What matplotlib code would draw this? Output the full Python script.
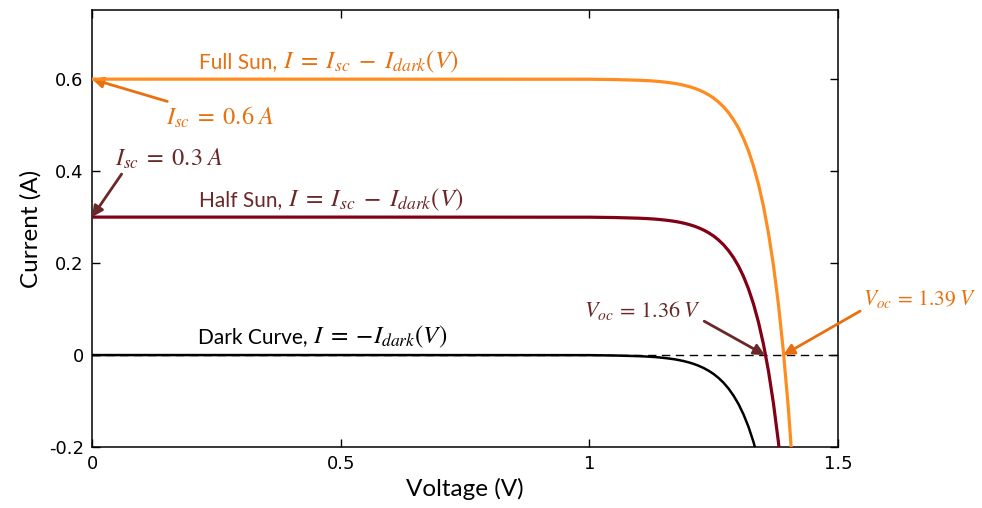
import matplotlib
matplotlib.use("Agg")
import matplotlib.pyplot as plt

# values (current in A against voltage in V)
voltage = [0, 0.5, 1.0, 1.05, 1.10, 1.11, 1.12, 1.13, 1.14, 1.15, 1.16, 1.17, 1.18, 1.19,
           1.20, 1.21, 1.22, 1.23, 1.24, 1.25, 1.26, 1.27, 1.28, 1.29, 1.30, 1.31,
           1.32, 1.33, 1.34, 1.35, 1.36, 1.37, 1.38, 1.39, 1.40, 1.41, 1.42]
dark = [0, 0, -0.0002, -0.0009, -0.0024, -0.0029, -0.0035, -0.0042, -0.0051, -0.0062,
        -0.0075, -0.0090, -0.0109, -0.0132, -0.0160, -0.0193, -0.0234, -0.0283, -0.0342,
        -0.0413, -0.0500, -0.0604, -0.0731, -0.0884, -0.1068, -0.1292, -0.1562, -0.1889,
        -0.2284, -0.2762, -0.334, -0.404, -0.488, -0.591, -0.714, -0.864, -1.045]
half_sun = [0.3, 0.3, 0.2998, 0.2991, 0.2976, 0.2971, 0.2965, 0.2958, 0.2949, 0.2938,
            0.2925, 0.2910, 0.2891, 0.2868, 0.2840, 0.2807, 0.2766, 0.2717, 0.2658,
            0.2587, 0.2500, 0.2396, 0.2269, 0.2116, 0.1932, 0.1708, 0.1438, 0.1111,
            0.0716, 0.0238, -0.034, -0.104, -0.188, -0.291, -0.414, -0.564, -0.745]
full_sun = [0.6, 0.6, 0.5998, 0.5991, 0.5976, 0.5971, 0.5965, 0.5958, 0.5949, 0.5938,
            0.5925, 0.5910, 0.5891, 0.5868, 0.5840, 0.5807, 0.5766, 0.5717, 0.5658,
            0.5587, 0.5500, 0.5396, 0.5269, 0.5116, 0.4932, 0.4708, 0.4438, 0.4111,
            0.3716, 0.3238, 0.266, 0.196, 0.112, 0.009, -0.114, -0.264, -0.445]

x_ticks = [0, 0.5, 1, 1.5]
x_tick_labels = ["0", "0.5", "1", "1.5"]
y_ticks = [-0.2, 0, 0.2, 0.4, 0.6]
y_tick_labels = ["-0.2", "0", "0.2", "0.4", "0.6"]

isc_full, isc_half = 0.6, 0.3
voc_full, voc_half = 1.39, 1.353

ORANGE = "#FF8C1F"
ORANGE_TXT = "#E8700E"
DARKRED = "#820016"
BROWN_TXT = "#6B2828"

plt.rcParams["mathtext.fontset"] = "stix"

fig = plt.figure(figsize=(9.82, 5.08), dpi=100)
ax = fig.add_axes([0.0937, 0.120, 0.7597, 0.860])

ax.axhline(0, color="black", lw=1, ls=(0, (6, 4)), zorder=1)
ax.plot(voltage, dark, color="black", lw=1.8, zorder=2)
ax.plot(voltage, half_sun, color=DARKRED, lw=2.3, zorder=3)
ax.plot(voltage, full_sun, color=ORANGE, lw=2.3, zorder=4)

ax.set_xlim(0, 1.5)
ax.set_ylim(-0.2, 0.75)
ax.set_xticks(x_ticks)
ax.set_xticklabels(x_tick_labels)
ax.set_yticks(y_ticks)
ax.set_yticklabels(y_tick_labels)
ax.tick_params(direction="in", length=6, width=1, top=True, right=True,
               labelsize=13, pad=6)
for s in ax.spines.values():
    s.set_linewidth(1.1)

ax.set_xlabel("Voltage (V)", fontsize=17.5, family="Lato", labelpad=3)
ax.set_ylabel("Current (A)", fontsize=17.5, family="Lato", labelpad=5)


def curve_label(x, y, words, eq, color):
    # plain words in sans, then the equation in a larger serif right after it
    t = ax.text(x, y, words, color=color, fontsize=15, family="Lato", va="baseline")
    ax.annotate(eq, xy=(1, y), xycoords=(t, "data"), xytext=(4, 0),
                textcoords="offset points", color=color, fontsize=18,
                va="baseline", ha="left")


eq_full = r"$I\;=\;I_{sc}\;-\;I_{dark}(V)$"
eq_dark = r"$I\;=\;{-}I_{dark}(V)$"
curve_label(0.215, 0.623, "Full Sun,", eq_full, ORANGE_TXT)
curve_label(0.215, 0.324, "Half Sun,", eq_full, BROWN_TXT)
curve_label(0.213, 0.026, "Dark Curve,", eq_dark, "black")

arrow = dict(arrowstyle="-|>", lw=2, mutation_scale=16, shrinkA=0, shrinkB=0)
ax.annotate(r"$I_{sc}\;=\;0.6\;A$", xy=(0, isc_full), xytext=(0.148, 0.518),
            color=ORANGE_TXT, fontsize=17.5, va="center",
            arrowprops=dict(color=ORANGE_TXT, **arrow))
ax.annotate(r"$I_{sc}\;=\;0.3\;A$", xy=(0, isc_half), xytext=(0.046, 0.426),
            color=BROWN_TXT, fontsize=17.5, va="center",
            arrowprops=dict(color=BROWN_TXT, relpos=(0.08, 0.0), **arrow))
ax.annotate(r"$V_{oc}\,=\,1.36\;V$", xy=(voc_half, 0), xytext=(0.99, 0.097),
            color=BROWN_TXT, fontsize=16, va="center",
            arrowprops=dict(color=BROWN_TXT, relpos=(1.0, 0.1), **arrow))
ax.annotate(r"$V_{oc}\,=\,1.39\;V$", xy=(voc_full, 0), xytext=(1.550, 0.123),
            color=ORANGE_TXT, fontsize=15.5, va="center", annotation_clip=False,
            arrowprops=dict(color=ORANGE_TXT, relpos=(0.0, 0.0), **arrow))

fig.savefig("out.png", dpi=100)
